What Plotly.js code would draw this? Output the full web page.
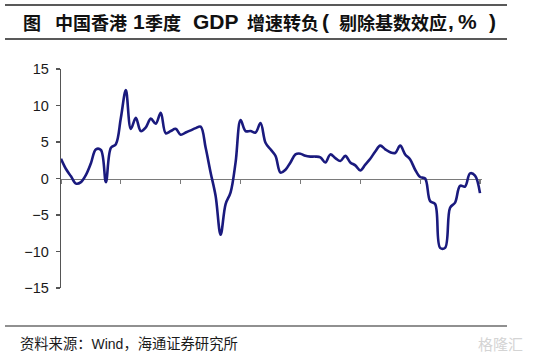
<!DOCTYPE html>
<html>
<head>
<meta charset="utf-8">
<script src="https://cdn.plot.ly/plotly-3.0.1.min.js"></script>
<style>html,body{margin:0;padding:0;background:#fff;}#chart{width:533px;height:355px;}</style>
</head>
<body>
<div id="chart"></div>
<script>
// Quarters 2001Q1 .. 2022Q1 (x positions are the quarter index)
const quarters = [
 "2001Q1","2001Q2","2001Q3","2001Q4","2002Q1","2002Q2","2002Q3","2002Q4",
 "2003Q1","2003Q2","2003Q3","2003Q4","2004Q1","2004Q2","2004Q3","2004Q4",
 "2005Q1","2005Q2","2005Q3","2005Q4","2006Q1","2006Q2","2006Q3","2006Q4",
 "2007Q1","2007Q2","2007Q3","2007Q4","2008Q1","2008Q2","2008Q3","2008Q4",
 "2009Q1","2009Q2","2009Q3","2009Q4","2010Q1","2010Q2","2010Q3","2010Q4",
 "2011Q1","2011Q2","2011Q3","2011Q4","2012Q1","2012Q2","2012Q3","2012Q4",
 "2013Q1","2013Q2","2013Q3","2013Q4","2014Q1","2014Q2","2014Q3","2014Q4",
 "2015Q1","2015Q2","2015Q3","2015Q4","2016Q1","2016Q2","2016Q3","2016Q4",
 "2017Q1","2017Q2","2017Q3","2017Q4","2018Q1","2018Q2","2018Q3","2018Q4",
 "2019Q1","2019Q2","2019Q3","2019Q4","2020Q1","2020Q2","2020Q3","2020Q4",
 "2021Q1","2021Q2","2021Q3","2021Q4","2022Q1"
];
const growth = [
 2.7, 1.3, 0.3, -0.7, -0.5, 0.5, 2.1, 4.0,
 3.9, -0.5, 4.2, 4.7, 8.3, 12.1, 6.8, 8.3,
 6.5, 7.0, 8.2, 7.5, 9.0, 6.2, 6.5, 6.8,
 6.0, 6.3, 6.6, 6.9, 7.1, 4.2, 0.8, -2.4,
 -7.7, -3.5, -1.9, 2.2, 8.0, 6.5, 6.5, 6.3,
 7.6, 4.9, 4.0, 3.1, 0.8, 1.2, 2.2, 3.3,
 3.4, 3.1, 3.0, 3.0, 2.9, 2.2, 3.3, 2.8,
 2.4, 3.1, 2.2, 1.8, 1.1, 1.9, 2.7, 3.7,
 4.5, 4.0, 3.6, 3.5, 4.5, 3.3, 2.6, 1.2,
 0.2, 0.0, -3.1, -3.5, -9.5, -9.5, -4.0, -3.3,
 -1.0, -1.1, 0.7, 0.4, -2.0
];
const tickQuarters = ["2001Q1","2004Q1","2007Q1","2010Q1","2013Q1","2016Q1","2019Q1","2022Q1"];
const tickLabels = ["01/03","04/03","07/03","10/03","13/03","16/03","19/03","22/03"];
// Title pieces: [text, is latin]
const titlePieces = [
  ["图", false], ["中国香港", false], ["1", true], ["季度", false], ["GDP", true],
  ["增速转负", false], ["(", true], ["剔除基数效应", false], [",", true], ["%", true], [")", true]
];
const sourceCN1 = "资料来源：";
const sourceEN = "Wind";
const sourceCN2 = "，海通证券研究所";
const watermark = "格隆汇";

const xIdx = quarters.map((q, i) => i);
const tickIdx = tickQuarters.map(q => quarters.indexOf(q));

const L = 61, R = 51, T = 69, B = 67, W = 533, H = 355;
const pw = W - L - R, ph = H - T - B;
const px = v => (v - L) / pw;
const py = v => (H - B - v) / ph;

const latin = '"Liberation Sans", Arial, sans-serif';
const cjk = '"Noto Sans CJK SC", "Liberation Sans", sans-serif';

const trace = {
  x: xIdx, y: growth, xaxis: 'x2', yaxis: 'y',
  type: 'scatter', mode: 'lines',
  line: {color: '#1a1a7e', width: 2.6, shape: 'spline', smoothing: 1},
  hoverinfo: 'skip', showlegend: false
};

const titleX = [21, 53, 131, 143, 191, 245, 320, 337, 446, 456, 487];
const titleAnn = titlePieces.map((p, i) => ({
  xref: 'paper', yref: 'paper', x: px(titleX[i]), y: py(22), xanchor: 'left', yanchor: 'middle', showarrow: false,
  text: '<b>' + p[0] + '</b>',
  font: {family: p[1] ? latin : cjk, size: p[1] ? 21 : 18, color: '#111'}
}));

const xr = [0, 84.4];
const layout = {
  width: W, height: H,
  margin: {l: L, r: R, t: T, b: B, pad: 0},
  paper_bgcolor: '#fff', plot_bgcolor: '#fff',
  showlegend: false,
  xaxis: {
    range: xr, tickvals: tickIdx, ticktext: tickLabels,
    showline: false, ticks: '', showgrid: false, zeroline: false, ticklabelstandoff: 2,
    tickfont: {family: latin, size: 14, color: '#1a1a1a'}, fixedrange: true
  },
  xaxis2: {
    range: xr, overlaying: 'x', anchor: 'free', position: 0.5,
    tickvals: tickIdx, showticklabels: false,
    showline: true, linecolor: '#7a7a7a', linewidth: 1.2,
    ticks: 'outside', ticklen: 4, tickcolor: '#7a7a7a', tickwidth: 1.2,
    showgrid: false, zeroline: false, layer: 'below traces', fixedrange: true
  },
  yaxis: {
    range: [-15, 15], tickvals: [-15, -10, -5, 0, 5, 10, 15],
    showline: true, linecolor: '#555', linewidth: 1.2,
    ticks: 'outside', ticklen: 4, tickcolor: '#555', tickwidth: 1.2,
    showgrid: false, zeroline: false, ticklabelstandoff: 4,
    tickfont: {family: latin, size: 14.5, color: '#1a1a1a'}, fixedrange: true
  },
  shapes: [
    {type: 'line', xref: 'paper', yref: 'paper', x0: px(5), x1: px(507), y0: py(5), y1: py(5), line: {color: '#222', width: 1.5}},
    {type: 'line', xref: 'paper', yref: 'paper', x0: px(5), x1: px(507), y0: py(39), y1: py(39), line: {color: '#222', width: 1.5}},
    {type: 'line', xref: 'paper', yref: 'paper', x0: px(5), x1: px(507), y0: py(326), y1: py(326), line: {color: '#222', width: 1.2}}
  ],
  annotations: titleAnn.concat([
    {xref: 'paper', yref: 'paper', x: px(18), y: py(342), xanchor: 'left', yanchor: 'middle', showarrow: false,
     text: sourceCN1 + '<span style="font-family:Liberation Sans, Arial, sans-serif;font-size:14px">' + sourceEN + '</span>' + sourceCN2,
     font: {family: cjk, size: 14.3, color: '#1a1a1a'}},
    {xref: 'paper', yref: 'paper', x: px(525), y: py(343), xanchor: 'right', yanchor: 'middle', showarrow: false,
     text: watermark, font: {family: cjk, size: 15, color: '#d4d4d4'}}
  ])
};

Plotly.newPlot('chart', [trace], layout, {staticPlot: true, displayModeBar: false});
</script>
</body>
</html>
